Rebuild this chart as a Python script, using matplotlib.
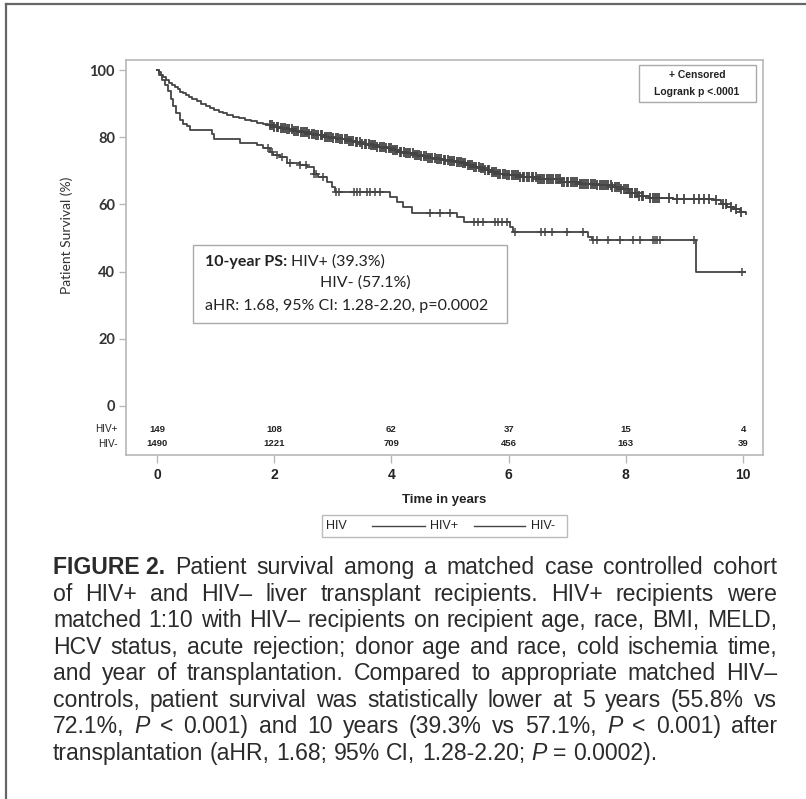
import numpy as np
import matplotlib
matplotlib.use('Agg')
import matplotlib.pyplot as plt
from matplotlib.lines import Line2D
from matplotlib.patches import Rectangle

# ---------------- data ----------------
hivpos_time = [0, 0.04, 0.08, 0.13, 0.18, 0.23, 0.28, 0.33, 0.39, 0.45, 0.51, 0.56,
               0.93, 0.97, 1.42, 1.70, 1.81, 1.93, 1.98, 2.10, 2.21, 2.44, 2.56, 2.67,
               2.75, 2.90, 2.98, 3.04, 3.98, 4.09, 4.20, 4.35, 5.11, 5.23, 6.02, 6.08,
               7.36, 7.42, 9.20, 10.03]
hivpos_surv = [100, 98.5, 97.0, 95.5, 93.8, 91.5, 89.3, 87.3, 85.1, 84.0, 83.3, 82.3,
               80.9, 79.4, 78.2, 77.7, 76.7, 75.7, 74.7, 74.2, 72.2, 71.7, 71.2, 69.2,
               68.2, 66.8, 65.3, 63.8, 62.3, 60.8, 59.3, 57.3, 56.3, 54.8, 53.3, 51.8,
               50.3, 49.4, 39.9, 39.9]
hivpos_censor = [1.90, 1.96, 2.04, 2.13, 2.27, 2.44, 2.55, 2.67, 2.72, 2.84, 3.06, 3.10,
                 3.36, 3.42, 3.47, 3.58, 3.64, 3.72, 3.81, 4.66, 4.83, 5.00, 5.40, 5.48,
                 5.57, 5.77, 5.82, 5.88, 5.97, 6.11, 6.56, 6.62, 6.74, 6.99, 7.27, 7.44,
                 7.50, 7.70, 7.90, 8.13, 8.24, 8.47, 8.50, 8.53, 8.58, 9.17, 9.98]

hivneg_time = [0, 0.03, 0.06, 0.1, 0.15, 0.2, 0.25, 0.3, 0.35, 0.4, 0.45, 0.5, 0.55,
               0.6, 0.68, 0.75, 0.83, 0.9, 0.98, 1.05, 1.13, 1.2, 1.3, 1.4, 1.5, 1.6,
               1.7, 1.8, 1.9, 2.0, 2.1, 2.2, 2.33, 2.45, 2.58, 2.7, 2.85, 3.0, 3.12,
               3.25, 3.38, 3.5, 3.62, 3.75, 3.88, 4.0, 4.12, 4.25, 4.38, 4.5, 4.62,
               4.75, 4.88, 5.0, 5.1, 5.2, 5.3, 5.4, 5.5, 5.6, 5.7, 5.8, 5.95, 6.2, 6.5,
               6.9, 7.2, 7.5, 7.75, 7.9, 8.05, 8.2, 8.4, 8.8, 9.5, 9.62, 9.72, 9.82,
               9.95, 10.05]
hivneg_surv = [100, 99.3, 98.6, 97.8, 97.0, 96.3, 95.6, 95.0, 94.3, 93.6, 93.1, 92.6,
               92.0, 91.5, 90.7, 90.0, 89.3, 88.6, 88.1, 87.6, 87.1, 86.6, 86.1, 85.6,
               85.1, 84.7, 84.3, 83.9, 83.5, 83.2, 82.8, 82.4, 82.0, 81.5, 81.1, 80.7,
               80.2, 79.8, 79.4, 79.0, 78.5, 78.1, 77.6, 77.2, 76.7, 76.2, 75.7, 75.2,
               74.7, 74.3, 73.9, 73.6, 73.3, 73.0, 72.6, 72.3, 71.8, 71.2, 70.7, 70.2,
               69.7, 69.2, 68.7, 68.2, 67.6, 66.7, 66.2, 65.7, 65.2, 64.5, 63.4, 62.4,
               61.8, 61.5, 61.3, 60.0, 59.2, 58.5, 57.8, 57.2]
hivneg_censor = [1.92, 1.96, 2.00, 2.04, 2.07, 2.11, 2.15, 2.19, 2.22, 2.26, 2.30, 2.34,
                 2.37, 2.41, 2.45, 2.49, 2.52, 2.56, 2.60, 2.64, 2.67, 2.71, 2.75, 2.79,
                 2.82, 2.86, 2.90, 2.94, 2.97, 3.01, 3.05, 3.09, 3.12, 3.16, 3.20, 3.24,
                 3.27, 3.31, 3.35, 3.39, 3.42, 3.46, 3.50, 3.54, 3.57, 3.61, 3.65, 3.69,
                 3.72, 3.76, 3.80, 3.84, 3.87, 3.91, 3.95, 3.99, 4.02, 4.06, 4.10, 4.14,
                 4.17, 4.21, 4.25, 4.29, 4.32, 4.36, 4.40, 4.44, 4.47, 4.51, 4.55, 4.59,
                 4.62, 4.66, 4.70, 4.74, 4.77, 4.81, 4.85, 4.89, 4.92, 4.96, 5.00, 5.04,
                 5.07, 5.11, 5.15, 5.19, 5.22, 5.26, 5.30, 5.34, 5.37, 5.41, 5.45, 5.49,
                 5.52, 5.56, 5.60, 5.64, 5.67, 5.71, 5.75, 5.79, 5.82, 5.86, 5.90, 5.94,
                 5.97, 6.01, 6.05, 6.09, 6.12, 6.16, 6.20, 6.24, 6.27, 6.31, 6.35, 6.39,
                 6.42, 6.46, 6.50, 6.54, 6.57, 6.61, 6.65, 6.69, 6.72, 6.76, 6.80, 6.84,
                 6.87, 6.91, 6.95, 6.99, 7.02, 7.06, 7.10, 7.14, 7.17, 7.21, 7.25, 7.29,
                 7.32, 7.36, 7.40, 7.44, 7.47, 7.51, 7.55, 7.59, 7.62, 7.66, 7.70, 7.74,
                 7.77, 7.81, 7.85, 7.89, 7.92, 7.96, 8.00, 8.04, 8.07, 8.11, 8.15, 8.19,
                 8.22, 8.27, 8.30, 8.41, 8.47, 8.50, 8.53, 8.56, 8.73, 8.87, 8.99, 9.16,
                 9.25, 9.33, 9.42, 9.54, 9.65, 9.71, 9.80, 9.88, 9.97]

risk_times = [0, 2, 4, 6, 8, 10]
hivpos_risk = [149, 108, 62, 37, 15, 4]
hivneg_risk = [1490, 1221, 709, 456, 163, 39]

x_ticks = [0, 2, 4, 6, 8, 10]
y_ticks = [0, 20, 40, 60, 80, 100]

caption_lines = [
    "FIGURE 2. Patient survival among a matched case controlled cohort",
    "of HIV+ and HIV\u2013 liver transplant recipients. HIV+ recipients were",
    "matched 1:10 with HIV\u2013 recipients on recipient age, race, BMI, MELD,",
    "HCV status, acute rejection; donor age and race, cold ischemia time,",
    "and year of transplantation. Compared to appropriate matched HIV\u2013",
    "controls, patient survival was statistically lower at 5 years (55.8% vs",
    "72.1%, P < 0.001) and 10 years (39.3% vs 57.1%, P < 0.001) after",
    "transplantation (aHR, 1.68; 95% CI, 1.28-2.20; P = 0.0002).",
]

# ---------------- figure ----------------
W, H = 806, 799
fig = plt.figure(figsize=(W / 100, H / 100), dpi=100)
fig.patch.set_facecolor('white')


def fx(px):
    return px / W


def fy(py):
    return 1 - py / H


NARROW = ['Liberation Sans Narrow', 'Liberation Sans', 'DejaVu Sans']
CAL = ['Lato', 'DejaVu Sans']
LINE_C = '#444444'
TXT_C = '#222222'
SPINE_C = '#b8b8b8'

# outer frame (top and left)
fig.add_artist(Line2D([fx(6), 1.0], [fy(4), fy(4)], color='#666666', lw=1.6))
fig.add_artist(Line2D([fx(6), fx(6)], [fy(4), 0.0], color='#666666', lw=1.6))

ax = fig.add_axes([fx(126), fy(455), fx(763) - fx(126), fy(60) - fy(455)])
ax.set_xlim(-0.53, 10.34)
ax.set_ylim(-14.6, 103.0)
for sp in ax.spines.values():
    sp.set_color(SPINE_C)
    sp.set_linewidth(1.2)


def step_lookup(times, surv, t):
    idx = np.searchsorted(np.asarray(times), np.asarray(t), side='right') - 1
    return np.asarray(surv)[idx]


ax.step(hivneg_time, hivneg_surv, where='post', color=LINE_C, lw=1.3)
ax.step(hivpos_time, hivpos_surv, where='post', color=LINE_C, lw=1.3)
ax.plot(hivneg_censor, step_lookup(hivneg_time, hivneg_surv, hivneg_censor),
        ls='none', marker='+', ms=6.5, mew=1.3, color=LINE_C)
ax.plot(hivpos_censor, step_lookup(hivpos_time, hivpos_surv, hivpos_censor),
        ls='none', marker='+', ms=6, mew=1.1, color=LINE_C)

ax.set_xticks(x_ticks)
ax.set_xticklabels([str(v) for v in x_ticks], family=NARROW, fontweight='bold',
                   fontsize=10, color=TXT_C)
ax.set_yticks(y_ticks)
ax.set_yticklabels([str(v) for v in y_ticks], family=CAL, fontweight='bold',
                   fontsize=10.5, color='#333333')
ax.tick_params(axis='x', direction='out', length=5.5, width=1, color=SPINE_C, pad=4)
ax.tick_params(axis='y', direction='out', length=5, width=1, color=SPINE_C, pad=3)

ax.set_ylabel('Patient Survival (%)', family=CAL, fontsize=10, color='#333333')
ax.yaxis.set_label_coords(-0.083, 0.557)
ax.set_xlabel('Time in years', family=NARROW, fontweight='bold', fontsize=9.5,
              color=TXT_C)
ax.xaxis.set_label_coords(0.5, -0.10)

# at-risk table
for t, n in zip(risk_times, hivpos_risk):
    ax.text(t, -7.0, str(n), ha='center', va='center', family=NARROW,
            fontweight='bold', fontsize=6.8, color=TXT_C)
for t, n in zip(risk_times, hivneg_risk):
    ax.text(t, -11.3, str(n), ha='center', va='center', family=NARROW,
            fontweight='bold', fontsize=6.8, color=TXT_C)
ax.text(-0.68, -7.0, 'HIV+', ha='right', va='center', family=NARROW,
        fontsize=7.2, color=TXT_C, clip_on=False)
ax.text(-0.68, -11.3, 'HIV-', ha='right', va='center', family=NARROW,
        fontsize=7.2, color=TXT_C, clip_on=False)

# annotation box inside plot
ax.add_patch(Rectangle((0.61, 24.7), 5.36, 23.2, fill=False, ec='#aaaaaa', lw=1))
t1 = ax.text(0.82, 42.9, '10-year PS:', family=CAL, fontweight='bold', fontsize=11.5,
             color=TXT_C, va='center', ha='left')
ax.annotate('HIV+ (39.3%)', xy=(1, 0.5), xycoords=t1, xytext=(2.5, 0),
            textcoords='offset points', family=CAL, fontsize=11.5, color=TXT_C,
            va='center', ha='left')
ax.text(2.78, 36.6, 'HIV- (57.1%)', family=CAL, fontsize=11.5, color=TXT_C,
        va='center', ha='left')
ax.text(0.82, 29.9, 'aHR: 1.68, 95% CI: 1.28-2.20, p=0.0002', family=CAL,
        fontsize=11.5, color=TXT_C, va='center', ha='left')

# top-right box
fig.add_artist(Rectangle((fx(639), fy(102)), fx(756) - fx(639), fy(65) - fy(102),
                         fill=False, ec='#aaaaaa', lw=1))
fig.text(fx(697), fy(75), '+ Censored', ha='center', va='center', family=NARROW,
         fontweight='bold', fontsize=7.5, color=TXT_C)
fig.text(fx(697), fy(92), 'Logrank p <.0001', ha='center', va='center', family=NARROW,
         fontweight='bold', fontsize=7.5, color=TXT_C)

# bottom legend
fig.add_artist(Rectangle((fx(322), fy(537)), fx(567) - fx(322), fy(515) - fy(537),
                         fill=False, ec='#bbbbbb', lw=1))
fig.text(fx(326), fy(526), 'HIV', ha='left', va='center', family=NARROW, fontsize=9,
         color=TXT_C)
fig.add_artist(Line2D([fx(372), fx(425)], [fy(526), fy(526)], color=LINE_C, lw=1))
fig.text(fx(430), fy(526), 'HIV+', ha='left', va='center', family=NARROW, fontsize=9,
         color=TXT_C)
fig.add_artist(Line2D([fx(474), fx(525)], [fy(526), fy(526)], color=LINE_C, lw=1))
fig.text(fx(531), fy(526), 'HIV-', ha='left', va='center', family=NARROW, fontsize=9,
         color=TXT_C)

# ---------------- caption (justified) ----------------
renderer = fig.canvas.get_renderer()
CAP_FAM = ['Liberation Sans', 'DejaVu Sans']
CAP_C = '#2b2b2b'
X0, X1 = 53, 777


def tokens(i, line):
    parts = line.split(' ')
    toks = []
    if i == 0:
        toks.append((parts[0] + ' ' + parts[1], dict(fontweight='bold')))
        parts = parts[2:]
    for p in parts:
        if p == 'P':
            toks.append((p, dict(fontstyle='italic')))
        else:
            toks.append((p, {}))
    return toks


def width(s, size, **kw):
    t = fig.text(0, 0, s, fontsize=size, family=CAP_FAM, **kw)
    w = t.get_window_extent(renderer).width
    t.remove()
    return w


def natural_width(i, line, size):
    toks = tokens(i, line)
    sp = width('a a', size) - width('aa', size)
    return sum(width(s, size, **kw) for s, kw in toks) + sp * (len(toks) - 1)


base = 10.0
widest = max(natural_width(i, ln, base) for i, ln in enumerate(caption_lines[:-1]))
cap_size = base * (X1 - X0) * 0.985 / widest
space_w = width('a a', cap_size) - width('aa', cap_size)
cap_half = cap_size * 100 / 72 * 0.716 / 2

for i, line in enumerate(caption_lines):
    toks = tokens(i, line)
    ws = [width(s, cap_size, **kw) for s, kw in toks]
    if i < len(caption_lines) - 1:
        gap = ((X1 - X0) - sum(ws)) / (len(toks) - 1)
    else:
        gap = space_w
    x = X0
    y = 566 + 26.5 * i + cap_half
    for (s, kw), w in zip(toks, ws):
        fig.text(fx(x), fy(y), s, fontsize=cap_size, family=CAP_FAM, color=CAP_C,
                 va='baseline', ha='left', **kw)
        x += w + gap

fig.savefig('out.png', dpi=100, facecolor='white')
